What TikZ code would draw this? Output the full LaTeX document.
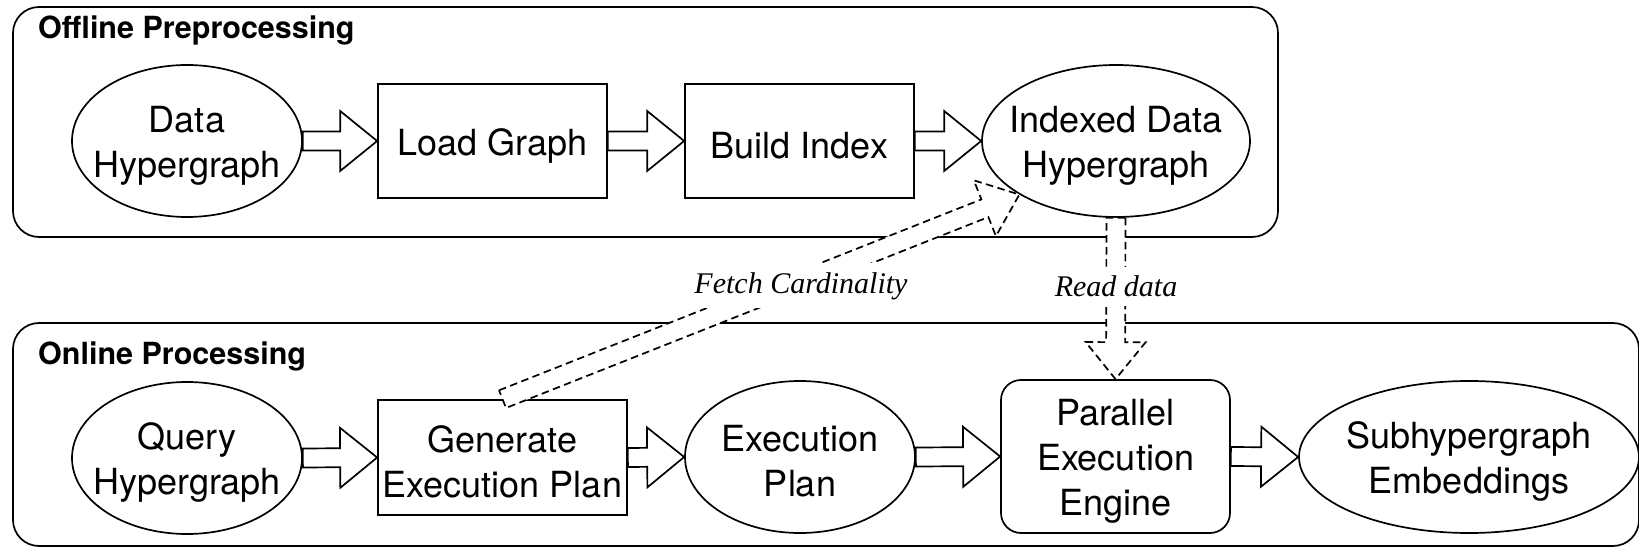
\documentclass[tikz,border=0pt]{standalone}
\usepackage{fontspec}
\setmainfont{TeX Gyre Heros}
\newfontfamily\flowserif{Liberation Serif}
\usetikzlibrary{shapes.geometric,calc}

% Hollow block arrow from #2 to #3, drawn with style #1
\newcommand{\blockflow}[3]{%
  \draw[#1] let \p1=(#2), \p2=(#3),
      \n1={atan2(\y2-\y1,\x2-\x1)}, \n2={veclen(\x2-\x1,\y2-\y1)} in
    ($(\p1)+(\n1+90:9.5pt)$)
    -- ($(\p1)+(\n1:\n2-37pt)+(\n1+90:9.5pt)$)
    -- ($(\p1)+(\n1:\n2-37pt)+(\n1+90:30pt)$)
    -- (\p2)
    -- ($(\p1)+(\n1:\n2-37pt)+(\n1-90:30pt)$)
    -- ($(\p1)+(\n1:\n2-37pt)+(\n1-90:9.5pt)$)
    -- ($(\p1)+(\n1-90:9.5pt)$)
    -- cycle;}

\begin{document}
\begin{tikzpicture}[x=1pt, y=-1pt,
  stage/.style={draw, line width=1.7pt, inner sep=0pt},
  oval/.style={stage, ellipse, minimum height=152pt},
  stepbox/.style={stage, rectangle, minimum width=229pt, minimum height=114pt},
  stagetext/.style={align=center, inner sep=0pt, yshift=-4.5pt,
                    font=\fontsize{36}{45}\selectfont},
  panel/.style={draw, line width=1.7pt, rounded corners=26pt},
  paneltitle/.style={anchor=base west, inner sep=0pt,
                     font=\fontsize{30.5}{36}\selectfont\bfseries},
  flow/.style={draw, line width=1.7pt, fill=white},
  dataflow/.style={flow, dash pattern=on 7.5pt off 4.5pt},
  flowlabel/.style={anchor=base, fill=white, inner xsep=6pt, inner ysep=9pt,
                    font=\flowserif\itshape\fontsize{30}{36}\selectfont},
]
\useasboundingbox (0,0) rectangle (1639,548);
\fill[white] (0,0) rectangle (1639,548);

% the two processing phases
\draw[panel] (13,7) rectangle (1278,237);
\draw[panel] (13,323) rectangle (1639,546);
\node[paneltitle] (offtitle) at (38,39) {Offline Preprocessing};
\node[paneltitle] (ontitle) at (38,364) {Online Processing};

% offline stages
\node[oval, minimum width=230pt] (dh) at (187,141) {};
\node[stepbox] (lg) at (492.5,141) {};
\node[stepbox] (bi) at (799.5,141) {};
\node[oval, minimum width=268pt] (idx) at (1116,141) {};

% online stages
\node[oval, minimum width=230pt] (qh) at (187,458) {};
\node[stepbox, minimum width=249pt, minimum height=115pt] (gep) at (502.5,457.5) {};
\node[oval, minimum width=230pt] (ep) at (800,457) {};
\node[stepbox, rounded corners=20pt, minimum height=153pt] (pee) at (1115.5,456.5) {};
\node[oval, minimum width=340pt] (se) at (1469,457) {};

% stage captions
\node[stagetext] (dht) at (dh) {Data\\Hypergraph};
\node[stagetext] (lgt) at (lg) {Load Graph};
\node[stagetext] (bit) at (bi) {Build Index};
\node[stagetext] (idxt) at (idx) {Indexed Data\\Hypergraph};
\node[stagetext] (qht) at (qh) {Query\\Hypergraph};
\node[stagetext] (gept) at (gep) {Generate\\Execution Plan};
\node[stagetext] (ept) at (ep) {Execution\\Plan};
\node[stagetext] (peet) at (pee) {Parallel\\Execution\\Engine};
\node[stagetext] (set) at (se) {Subhypergraph\\Embeddings};

% main flow
\blockflow{flow}{dh.east}{lg.west}
\blockflow{flow}{lg.east}{bi.west}
\blockflow{flow}{bi.east}{idx.west}
\blockflow{flow}{qh.east}{gep.west}
\blockflow{flow}{gep.east}{ep.west}
\blockflow{flow}{ep.east}{pee.west}
\blockflow{flow}{pee.east}{se.west}

% data access between the phases
\blockflow{dataflow}{gep.north}{idx.209.6}
\blockflow{dataflow}{idx.south}{pee.north}
\node[flowlabel] (fetch) at (801,293) {Fetch Cardinality};
\node[flowlabel] (readdata) at (1116,297) {Read data};
\end{tikzpicture}
\end{document}
